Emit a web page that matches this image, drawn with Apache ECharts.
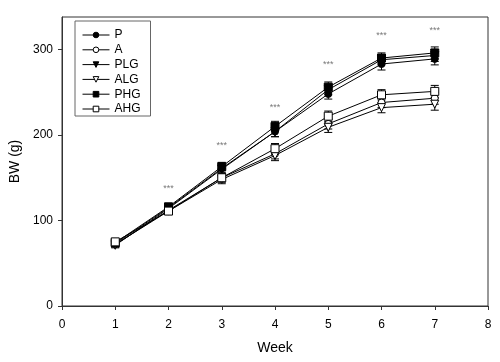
<!DOCTYPE html>
<html>
<head>
<meta charset="utf-8">
<script src="https://cdn.jsdelivr.net/npm/echarts@6/dist/echarts.min.js"></script>
<style>
  html, body { margin: 0; padding: 0; background: #fff; }
  #chart { width: 500px; height: 362px; }
</style>
</head>
<body>
<div id="chart"></div>
<script>
// semanas y peso corporal (g) por grupo
const weeks = [1, 2, 3, 4, 5, 6, 7];
const groups = ["P", "A", "PLG", "ALG", "PHG", "AHG"];

const P   = [73, 115, 161, 204, 248, 283, 289];
const A   = [72, 112, 150, 178, 213, 238, 243];
const PLG = [71, 114, 160, 204, 253, 288, 293];
const ALG = [72, 111, 148, 176, 209, 232, 236];
const PHG = [74, 116, 163, 210, 256, 290, 296];
const AHG = [75, 111, 150, 184, 222, 247, 251];

// error estandar
const P_err   = [3, 4, 5, 6, 6, 7, 7];
const A_err   = [3, 4, 5, 6, 6, 6, 7];
const PLG_err = [3, 4, 5, 6, 6, 6, 7];
const ALG_err = [3, 4, 5, 6, 6, 6, 7];
const PHG_err = [3, 4, 5, 6, 6, 6, 7];
const AHG_err = [3, 4, 5, 6, 6, 6, 7];

// posiciones de los asteriscos (semana, valor)
const starWeeks  = [2, 3, 4, 5, 6, 7];
const starValues = [137, 188, 232, 282, 316, 322];

const values = { P, A, PLG, ALG, PHG, AHG };
const errors = { P: P_err, A: A_err, PLG: PLG_err, ALG: ALG_err, PHG: PHG_err, AHG: AHG_err };

const tri = "path://M0,0 L10,0 L5,9 Z";
const styles = {
  P:   { symbol: "circle", fill: "#000" },
  A:   { symbol: "circle", fill: "#fff" },
  PLG: { symbol: tri,      fill: "#000" },
  ALG: { symbol: tri,      fill: "#fff" },
  PHG: { symbol: "rect",   fill: "#000" },
  AHG: { symbol: "rect",   fill: "#fff" },
};

const series = [];

groups.forEach((g) => {
  series.push({
    name: g + "_err",
    type: "custom",
    z: 1,
    silent: true,
    data: weeks.map((w, i) => [w, values[g][i] - errors[g][i], values[g][i] + errors[g][i]]),
    renderItem: function (params, api) {
      const lo = api.coord([api.value(0), api.value(1)]);
      const hi = api.coord([api.value(0), api.value(2)]);
      const c = 4;
      const st = { stroke: "#000", lineWidth: 1 };
      return {
        type: "group",
        children: [
          { type: "line", shape: { x1: lo[0], y1: lo[1], x2: hi[0], y2: hi[1] }, style: st },
          { type: "line", shape: { x1: lo[0] - c, y1: lo[1], x2: lo[0] + c, y2: lo[1] }, style: st },
          { type: "line", shape: { x1: hi[0] - c, y1: hi[1], x2: hi[0] + c, y2: hi[1] }, style: st },
        ],
      };
    },
  });
});

groups.forEach((g) => {
  const s = styles[g];
  series.push({
    name: g,
    type: "line",
    z: 3,
    data: weeks.map((w, i) => [w, values[g][i]]),
    symbol: s.symbol,
    symbolSize: s.symbol === "circle" ? 7 : 8,
    showAllSymbol: true,
    lineStyle: { color: "#000", width: 1 },
    itemStyle: { color: s.fill, borderColor: "#000", borderWidth: 1 },
    emphasis: { disabled: true },
  });
});

series.push({
  name: "stars",
  type: "scatter",
  symbolSize: 0,
  silent: true,
  data: starWeeks.map((w, i) => [w, starValues[i]]),
  label: {
    show: true,
    position: "inside",
    formatter: "***",
    color: "#555",
    fontSize: 9,
    fontFamily: "Liberation Sans",
  },
});

const chart = echarts.init(document.getElementById("chart"));
chart.setOption({
  animation: false,
  textStyle: { fontFamily: "Liberation Sans" },
  grid: {
    left: 61,
    right: 12,
    top: 17,
    bottom: 56,
    show: true,
    borderColor: "#333",
    borderWidth: 1,
  },
  legend: {
    data: groups,
    orient: "vertical",
    left: 75,
    top: 21,
    itemWidth: 27,
    itemHeight: 7,
    itemGap: 2.8,
    padding: [8, 10, 1, 7],
    borderColor: "#666",
    borderWidth: 1,
    lineStyle: { width: 1 },
    itemStyle: { borderWidth: 1 },
    textStyle: { fontSize: 12, color: "#000", padding: [0, 0, 0, 0], lineHeight: 12 },
  },
  xAxis: {
    type: "value",
    min: 0,
    max: 8,
    interval: 1,
    name: "Week",
    nameLocation: "middle",
    nameGap: 35,
    nameTextStyle: { fontSize: 14, color: "#000" },
    axisLine: { show: true, lineStyle: { color: "#333" } },
    axisTick: { show: true, length: 4, lineStyle: { color: "#333" } },
    axisLabel: { fontSize: 12, color: "#000", margin: 13 },
    splitLine: { show: false },
  },
  yAxis: {
    type: "value",
    min: 0,
    max: 338,
    name: "BW (g)",
    nameLocation: "middle",
    nameGap: 40,
    nameTextStyle: { fontSize: 14, color: "#000" },
    axisLine: { show: true, lineStyle: { color: "#333" } },
    axisTick: { show: true, length: 4, lineStyle: { color: "#333" }, customValues: [0, 100, 200, 300] },
    axisLabel: { fontSize: 12, color: "#000", margin: 9, customValues: [0, 100, 200, 300] },
    splitLine: { show: false },
  },
  series: series,
});
</script>
</body>
</html>
